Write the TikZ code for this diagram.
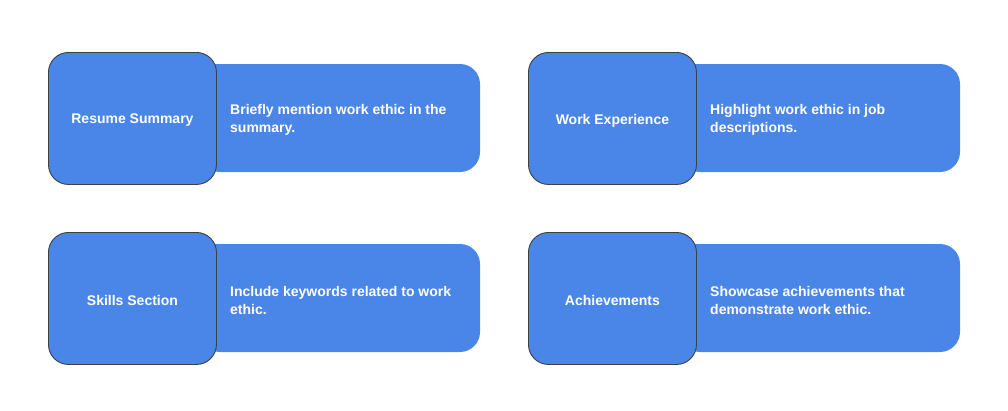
\documentclass[tikz,border=0pt]{standalone}
\usepackage{fontspec}
\setmainfont{Liberation Sans}
\definecolor{boxblue}{HTML}{4A86E8}
\definecolor{edgegray}{HTML}{3C4043}
\begin{document}
\begin{tikzpicture}[x=1pt,y=-1pt,
  titlebox/.style={draw=edgegray,line width=0.9pt,fill=boxblue,rounded corners=20pt,minimum width=168pt,minimum height=132pt,anchor=north west,inner sep=0pt,text=white,font=\bfseries\fontsize{14}{17}\selectfont},
  titletext/.style={text=white,font=\bfseries\fontsize{14}{17}\selectfont,inner sep=0pt},
  desctext/.style={anchor=west,text=white,align=left,font=\bfseries\fontsize{14}{18}\selectfont,inner sep=0pt}]
\useasboundingbox (0,0) rectangle (1008,410);
% row 1 left
\fill[boxblue,rounded corners=20pt] (200,64) -- (480,64) -- (480,172) -- (200,172) [sharp corners] -- cycle;
\node[titlebox] (t1) at (48,52) {};
\node[titletext] (l1) at ([yshift=-2pt]t1.center) {Resume Summary};
\node[desctext] (d1) at (230,120) {Briefly mention work ethic in the\\summary.};
% row 1 right
\fill[boxblue,rounded corners=20pt] (680,64) -- (960,64) -- (960,172) -- (680,172) [sharp corners] -- cycle;
\node[titlebox] (t2) at (528,52) {};
\node[titletext] (l2) at ([yshift=-2pt]t2.center) {Work Experience};
\node[desctext] (d2) at (710,120) {Highlight work ethic in job\\descriptions.};
% row 2 left
\fill[boxblue,rounded corners=20pt] (200,244) -- (480,244) -- (480,352) -- (200,352) [sharp corners] -- cycle;
\node[titlebox] (t3) at (48,232) {};
\node[titletext] (l3) at ([yshift=-2pt]t3.center) {Skills Section};
\node[desctext] (d3) at (230,300) {Include keywords related to work\\ethic.};
% row 2 right
\fill[boxblue,rounded corners=20pt] (680,244) -- (960,244) -- (960,352) -- (680,352) [sharp corners] -- cycle;
\node[titlebox] (t4) at (528,232) {};
\node[titletext] (l4) at ([yshift=-2pt]t4.center) {Achievements};
\node[desctext] (d4) at (710,300) {Showcase achievements that\\demonstrate work ethic.};
\end{tikzpicture}
\end{document}
